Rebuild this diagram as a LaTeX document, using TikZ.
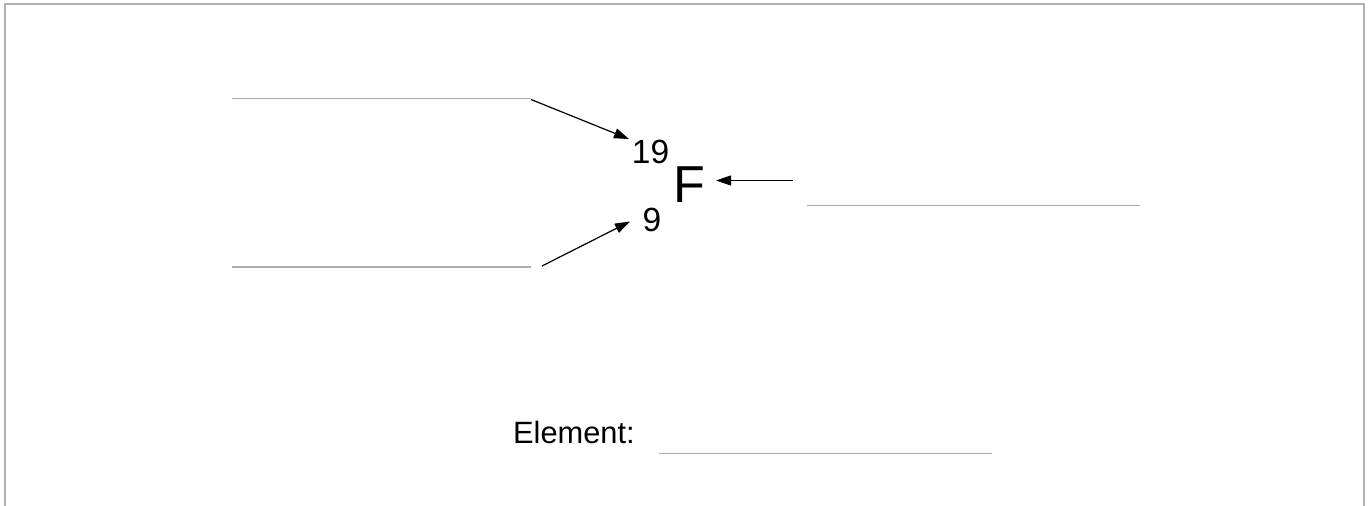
\documentclass[tikz,border=0pt]{standalone}
\usepackage{fontspec}
\setmainfont{Liberation Sans}
\usetikzlibrary{arrows.meta}
\begin{document}
\begin{tikzpicture}[x=1pt,y=-1pt,
  frameline/.style={draw=black!30,line width=2pt},
  blankline/.style={draw=black!32,line width=1.3pt},
  pointer/.style={draw=black,line width=1.2pt,-{Triangle[length=15pt,width=10pt]}},
  lbl/.style={inner sep=0pt,anchor=base,text=black}]
\useasboundingbox (0,0) rectangle (1371,506);
\fill[white] (0,0) rectangle (1371,506);
% open frame
\draw[frameline] (4.8,506) -- (4.8,3.8) -- (1363.7,3.8) -- (1363.7,506);
% isotope symbol
\node[lbl,font=\fontsize{33.5}{40}\selectfont] (mass) at (650.5,163) {19};
\node[lbl,font=\fontsize{33.5}{40}\selectfont] (atomic) at (652,231) {9};
\node[lbl,font=\fontsize{52}{60}\selectfont] (sym) at (689.5,202) {F};
% answer lines
\draw[blankline] (232,98.5) -- (531,98.5);
\draw[blankline] (232,267) -- (531,267);
\draw[blankline] (807,205.7) -- (1140,205.7);
\draw[blankline] (659,453.7) -- (992,453.7);
% pointers
\coordinate (tA) at (531,99.5);
\coordinate (hA) at (629,139);
\coordinate (tB) at (542,266);
\coordinate (hB) at (630,221.5);
\coordinate (tC) at (793,180.5);
\coordinate (hC) at (716,180.5);
\draw[pointer] (tA) -- (hA);
\draw[pointer] (tB) -- (hB);
\draw[pointer] (tC) -- (hC);
% prompt
\node[inner sep=0pt,anchor=base west,font=\fontsize{30.8}{36}\selectfont] (prompt) at (513,443) {Element:};
\end{tikzpicture}
\end{document}
